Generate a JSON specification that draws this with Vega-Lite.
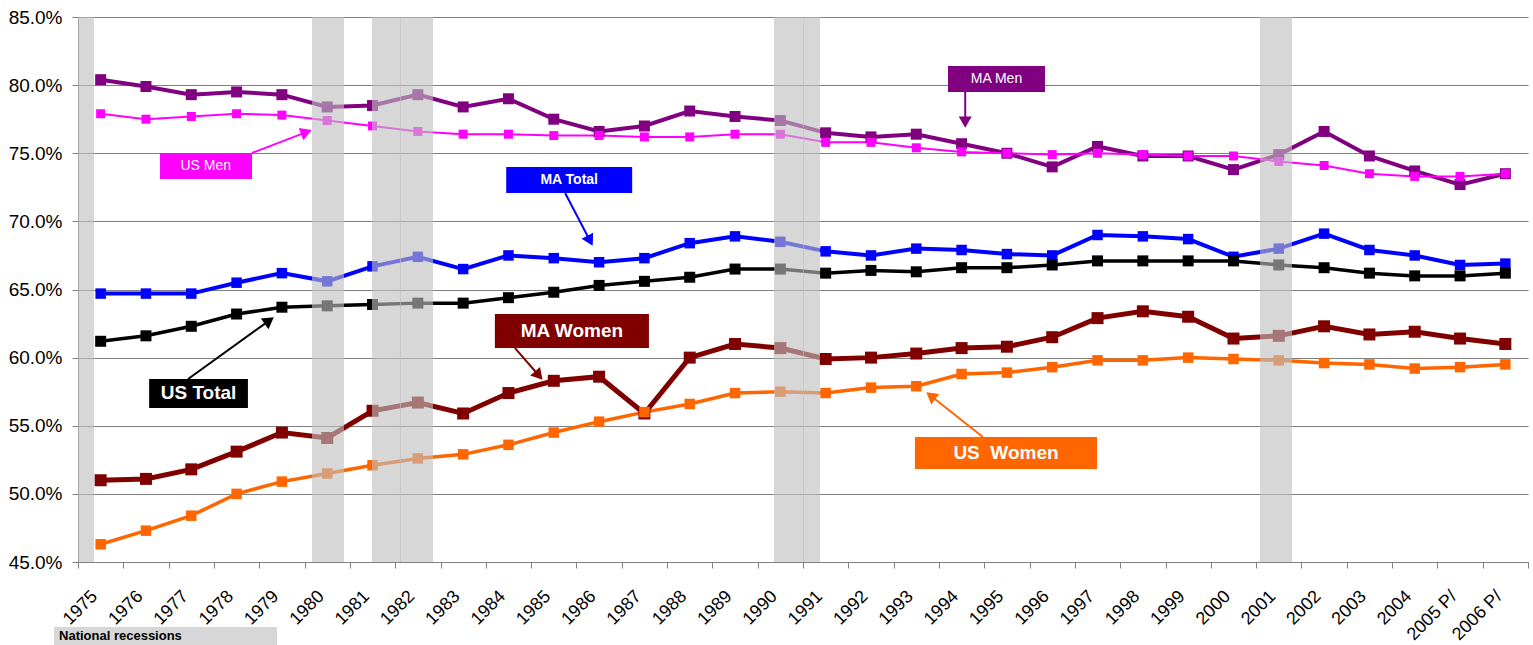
{
  "$schema": "https://vega.github.io/schema/vega-lite/v6.json",
  "width": 1450,
  "height": 545,
  "autosize": "none",
  "padding": {"left": 78, "top": 17, "right": 5, "bottom": 83},
  "background": "white",
  "config": {
    "view": {"stroke": null},
    "font": "Liberation Sans",
    "axis": {"labelFont": "Liberation Sans", "labelColor": "black", "domainColor": "#808080", "tickColor": "#808080", "title": null}
  },
  "datasets": {
    "series": [
      {"series":"MA Men","year":1975,"value":80.4},{"series":"MA Men","year":1976,"value":79.9},{"series":"MA Men","year":1977,"value":79.3},{"series":"MA Men","year":1978,"value":79.5},{"series":"MA Men","year":1979,"value":79.3},{"series":"MA Men","year":1980,"value":78.4},{"series":"MA Men","year":1981,"value":78.5},{"series":"MA Men","year":1982,"value":79.3},{"series":"MA Men","year":1983,"value":78.4},{"series":"MA Men","year":1984,"value":79.0},{"series":"MA Men","year":1985,"value":77.5},{"series":"MA Men","year":1986,"value":76.6},{"series":"MA Men","year":1987,"value":77.0},{"series":"MA Men","year":1988,"value":78.1},{"series":"MA Men","year":1989,"value":77.7},{"series":"MA Men","year":1990,"value":77.4},{"series":"MA Men","year":1991,"value":76.5},{"series":"MA Men","year":1992,"value":76.2},{"series":"MA Men","year":1993,"value":76.4},{"series":"MA Men","year":1994,"value":75.7},{"series":"MA Men","year":1995,"value":75.0},{"series":"MA Men","year":1996,"value":74.0},{"series":"MA Men","year":1997,"value":75.5},{"series":"MA Men","year":1998,"value":74.8},{"series":"MA Men","year":1999,"value":74.8},{"series":"MA Men","year":2000,"value":73.8},{"series":"MA Men","year":2001,"value":74.9},{"series":"MA Men","year":2002,"value":76.6},{"series":"MA Men","year":2003,"value":74.8},{"series":"MA Men","year":2004,"value":73.7},{"series":"MA Men","year":2005,"value":72.7},{"series":"MA Men","year":2006,"value":73.5},
      {"series":"US Men","year":1975,"value":77.9},{"series":"US Men","year":1976,"value":77.5},{"series":"US Men","year":1977,"value":77.7},{"series":"US Men","year":1978,"value":77.9},{"series":"US Men","year":1979,"value":77.8},{"series":"US Men","year":1980,"value":77.4},{"series":"US Men","year":1981,"value":77.0},{"series":"US Men","year":1982,"value":76.6},{"series":"US Men","year":1983,"value":76.4},{"series":"US Men","year":1984,"value":76.4},{"series":"US Men","year":1985,"value":76.3},{"series":"US Men","year":1986,"value":76.3},{"series":"US Men","year":1987,"value":76.2},{"series":"US Men","year":1988,"value":76.2},{"series":"US Men","year":1989,"value":76.4},{"series":"US Men","year":1990,"value":76.4},{"series":"US Men","year":1991,"value":75.8},{"series":"US Men","year":1992,"value":75.8},{"series":"US Men","year":1993,"value":75.4},{"series":"US Men","year":1994,"value":75.1},{"series":"US Men","year":1995,"value":75.0},{"series":"US Men","year":1996,"value":74.9},{"series":"US Men","year":1997,"value":75.0},{"series":"US Men","year":1998,"value":74.9},{"series":"US Men","year":1999,"value":74.8},{"series":"US Men","year":2000,"value":74.8},{"series":"US Men","year":2001,"value":74.4},{"series":"US Men","year":2002,"value":74.1},{"series":"US Men","year":2003,"value":73.5},{"series":"US Men","year":2004,"value":73.3},{"series":"US Men","year":2005,"value":73.3},{"series":"US Men","year":2006,"value":73.5},
      {"series":"MA Total","year":1975,"value":64.7},{"series":"MA Total","year":1976,"value":64.7},{"series":"MA Total","year":1977,"value":64.7},{"series":"MA Total","year":1978,"value":65.5},{"series":"MA Total","year":1979,"value":66.2},{"series":"MA Total","year":1980,"value":65.6},{"series":"MA Total","year":1981,"value":66.7},{"series":"MA Total","year":1982,"value":67.4},{"series":"MA Total","year":1983,"value":66.5},{"series":"MA Total","year":1984,"value":67.5},{"series":"MA Total","year":1985,"value":67.3},{"series":"MA Total","year":1986,"value":67.0},{"series":"MA Total","year":1987,"value":67.3},{"series":"MA Total","year":1988,"value":68.4},{"series":"MA Total","year":1989,"value":68.9},{"series":"MA Total","year":1990,"value":68.5},{"series":"MA Total","year":1991,"value":67.8},{"series":"MA Total","year":1992,"value":67.5},{"series":"MA Total","year":1993,"value":68.0},{"series":"MA Total","year":1994,"value":67.9},{"series":"MA Total","year":1995,"value":67.6},{"series":"MA Total","year":1996,"value":67.5},{"series":"MA Total","year":1997,"value":69.0},{"series":"MA Total","year":1998,"value":68.9},{"series":"MA Total","year":1999,"value":68.7},{"series":"MA Total","year":2000,"value":67.4},{"series":"MA Total","year":2001,"value":68.0},{"series":"MA Total","year":2002,"value":69.1},{"series":"MA Total","year":2003,"value":67.9},{"series":"MA Total","year":2004,"value":67.5},{"series":"MA Total","year":2005,"value":66.8},{"series":"MA Total","year":2006,"value":66.9},
      {"series":"US Total","year":1975,"value":61.2},{"series":"US Total","year":1976,"value":61.6},{"series":"US Total","year":1977,"value":62.3},{"series":"US Total","year":1978,"value":63.2},{"series":"US Total","year":1979,"value":63.7},{"series":"US Total","year":1980,"value":63.8},{"series":"US Total","year":1981,"value":63.9},{"series":"US Total","year":1982,"value":64.0},{"series":"US Total","year":1983,"value":64.0},{"series":"US Total","year":1984,"value":64.4},{"series":"US Total","year":1985,"value":64.8},{"series":"US Total","year":1986,"value":65.3},{"series":"US Total","year":1987,"value":65.6},{"series":"US Total","year":1988,"value":65.9},{"series":"US Total","year":1989,"value":66.5},{"series":"US Total","year":1990,"value":66.5},{"series":"US Total","year":1991,"value":66.2},{"series":"US Total","year":1992,"value":66.4},{"series":"US Total","year":1993,"value":66.3},{"series":"US Total","year":1994,"value":66.6},{"series":"US Total","year":1995,"value":66.6},{"series":"US Total","year":1996,"value":66.8},{"series":"US Total","year":1997,"value":67.1},{"series":"US Total","year":1998,"value":67.1},{"series":"US Total","year":1999,"value":67.1},{"series":"US Total","year":2000,"value":67.1},{"series":"US Total","year":2001,"value":66.8},{"series":"US Total","year":2002,"value":66.6},{"series":"US Total","year":2003,"value":66.2},{"series":"US Total","year":2004,"value":66.0},{"series":"US Total","year":2005,"value":66.0},{"series":"US Total","year":2006,"value":66.2},
      {"series":"MA Women","year":1975,"value":51.0},{"series":"MA Women","year":1976,"value":51.1},{"series":"MA Women","year":1977,"value":51.8},{"series":"MA Women","year":1978,"value":53.1},{"series":"MA Women","year":1979,"value":54.5},{"series":"MA Women","year":1980,"value":54.1},{"series":"MA Women","year":1981,"value":56.1},{"series":"MA Women","year":1982,"value":56.7},{"series":"MA Women","year":1983,"value":55.9},{"series":"MA Women","year":1984,"value":57.4},{"series":"MA Women","year":1985,"value":58.3},{"series":"MA Women","year":1986,"value":58.6},{"series":"MA Women","year":1987,"value":55.9},{"series":"MA Women","year":1988,"value":60.0},{"series":"MA Women","year":1989,"value":61.0},{"series":"MA Women","year":1990,"value":60.7},{"series":"MA Women","year":1991,"value":59.9},{"series":"MA Women","year":1992,"value":60.0},{"series":"MA Women","year":1993,"value":60.3},{"series":"MA Women","year":1994,"value":60.7},{"series":"MA Women","year":1995,"value":60.8},{"series":"MA Women","year":1996,"value":61.5},{"series":"MA Women","year":1997,"value":62.9},{"series":"MA Women","year":1998,"value":63.4},{"series":"MA Women","year":1999,"value":63.0},{"series":"MA Women","year":2000,"value":61.4},{"series":"MA Women","year":2001,"value":61.6},{"series":"MA Women","year":2002,"value":62.3},{"series":"MA Women","year":2003,"value":61.7},{"series":"MA Women","year":2004,"value":61.9},{"series":"MA Women","year":2005,"value":61.4},{"series":"MA Women","year":2006,"value":61.0},
      {"series":"US Women","year":1975,"value":46.3},{"series":"US Women","year":1976,"value":47.3},{"series":"US Women","year":1977,"value":48.4},{"series":"US Women","year":1978,"value":50.0},{"series":"US Women","year":1979,"value":50.9},{"series":"US Women","year":1980,"value":51.5},{"series":"US Women","year":1981,"value":52.1},{"series":"US Women","year":1982,"value":52.6},{"series":"US Women","year":1983,"value":52.9},{"series":"US Women","year":1984,"value":53.6},{"series":"US Women","year":1985,"value":54.5},{"series":"US Women","year":1986,"value":55.3},{"series":"US Women","year":1987,"value":56.0},{"series":"US Women","year":1988,"value":56.6},{"series":"US Women","year":1989,"value":57.4},{"series":"US Women","year":1990,"value":57.5},{"series":"US Women","year":1991,"value":57.4},{"series":"US Women","year":1992,"value":57.8},{"series":"US Women","year":1993,"value":57.9},{"series":"US Women","year":1994,"value":58.8},{"series":"US Women","year":1995,"value":58.9},{"series":"US Women","year":1996,"value":59.3},{"series":"US Women","year":1997,"value":59.8},{"series":"US Women","year":1998,"value":59.8},{"series":"US Women","year":1999,"value":60.0},{"series":"US Women","year":2000,"value":59.9},{"series":"US Women","year":2001,"value":59.8},{"series":"US Women","year":2002,"value":59.6},{"series":"US Women","year":2003,"value":59.5},{"series":"US Women","year":2004,"value":59.2},{"series":"US Women","year":2005,"value":59.3},{"series":"US Women","year":2006,"value":59.5}
    ],
    "bands": [
      {"start":1974.5,"end":1974.853},
      {"start":1979.664,"end":1980.370},
      {"start":1980.988,"end":1981.628},
      {"start":1981.606,"end":1982.335},
      {"start":1989.860,"end":1990.522},
      {"start":1990.500,"end":1990.875},
      {"start":2000.586,"end":2001.292}
    ],
    "legendbox": [
      {"label":"National recessions","x0":1973.97,"x1":1978.892,"y0":38.4,"y1":40.23,"tx":1974.081,"ty":39.57}
    ],
    "notes": [
      {"series":"MA Men","label":"MA Men","bx0":1993.70,"bx1":1995.84,"by0":79.50,"by1":81.40,"tx":1994.77,"ty":80.45,"ax0":1994.08,"ay0":79.50,"ax1":1994.08,"ay1":77.29,"dir":180},
      {"series":"US Men","label":"US Men","bx0":1976.31,"bx1":1978.34,"by0":73.11,"by1":75.02,"tx":1977.32,"ty":74.06,"ax0":1978.34,"ay0":75.02,"ax1":1979.54,"ay1":76.55,"dir":69},
      {"series":"MA Total","label":"MA Total","bx0":1983.95,"bx1":1986.73,"by0":72.08,"by1":73.99,"tx":1985.34,"ty":73.04,"ax0":1985.25,"ay0":72.08,"ax1":1985.80,"ay1":68.58,"dir":152},
      {"series":"US Total","label":"US Total","bx0":1976.07,"bx1":1978.25,"by0":56.30,"by1":58.43,"tx":1977.16,"ty":57.37,"ax0":1976.93,"ay0":58.43,"ax1":1978.72,"ay1":62.72,"dir":54},
      {"series":"MA Women","label":"MA Women","bx0":1983.70,"bx1":1987.10,"by0":60.71,"by1":63.20,"tx":1985.40,"ty":61.95,"ax0":1984.14,"ay0":60.71,"ax1":1984.67,"ay1":58.69,"dir":139},
      {"series":"US Women","label":"US\u00a0 Women","bx0":1992.97,"bx1":1996.99,"by0":51.83,"by1":54.17,"tx":1994.98,"ty":53.0,"ax0":1994.47,"ay0":54.17,"ax1":1993.32,"ay1":57.20,"dir":308}
    ]
  },
  "layer": [
    {
      "data": {"name": "series"},
      "mark": {"type": "line"},
      "encoding": {
        "x": {"field": "year", "type": "quantitative", "scale": {"domain": [1974.5, 2006.5], "nice": false, "zero": false},
          "axis": {"values": [1974.5,1975.5,1976.5,1977.5,1978.5,1979.5,1980.5,1981.5,1982.5,1983.5,1984.5,1985.5,1986.5,1987.5,1988.5,1989.5,1990.5,1991.5,1992.5,1993.5,1994.5,1995.5,1996.5,1997.5,1998.5,1999.5,2000.5,2001.5,2002.5,2003.5,2004.5,2005.5,2006.5],
            "labelExpr": "datum.value > 2006 ? '' : (datum.value + 0.5) + (datum.value > 2004 ? ' P/' : '')",
            "labelAngle": 315, "labelAlign": "right", "labelBaseline": "top", "labelOffset": 10, "labelPadding": 19,
            "tickSize": 6, "grid": false, "labelFontSize": 18, "labelOverlap": false, "labelFlush": false, "labelBound": false}},
        "y": {"field": "value", "type": "quantitative", "scale": {"domain": [45, 85], "nice": false, "zero": false},
          "axis": {"values": [45,50,55,60,65,70,75,80,85], "labelExpr": "format(datum.value, '.1f') + '%'",
            "grid": true, "gridColor": "#808080", "gridWidth": 1, "tickSize": 6, "labelPadding": 10, "labelFontSize": 19}},
        "color": {"field": "series", "type": "nominal", "legend": null,
          "scale": {"domain": ["MA Men","US Men","MA Total","US Total","MA Women","US Women"], "range": ["#800080","#FF00FF","#0000FF","#000000","#800000","#FF6600"]}},
        "strokeWidth": {"field": "series", "type": "nominal", "legend": null,
          "scale": {"type": "ordinal", "domain": ["MA Men","US Men","MA Total","US Total","MA Women","US Women"], "range": [4, 2, 4, 3.5, 5, 3.5]}}
      }
    },
    {
      "data": {"name": "series"},
      "mark": {"type": "point", "shape": "square", "filled": true, "opacity": 1},
      "encoding": {
        "x": {"field": "year", "type": "quantitative", "scale": {"domain": [1974.5, 2006.5], "nice": false, "zero": false}},
        "y": {"field": "value", "type": "quantitative", "scale": {"domain": [45, 85], "nice": false, "zero": false}},
        "color": {"field": "series", "type": "nominal", "legend": null},
        "size": {"field": "series", "type": "nominal", "legend": null,
          "scale": {"type": "ordinal", "domain": ["MA Men","US Men","MA Total","US Total","MA Women","US Women"], "range": [121, 81, 110, 121, 144, 110]}}
      }
    },
    {
      "data": {"name": "bands"},
      "mark": {"type": "rect", "fill": "#bebebe", "opacity": 0.62},
      "encoding": {
        "x": {"field": "start", "type": "quantitative", "scale": {"domain": [1974.5, 2006.5], "nice": false, "zero": false}},
        "x2": {"field": "end"},
        "y": {"datum": 45, "type": "quantitative", "scale": {"domain": [45, 85], "nice": false, "zero": false}},
        "y2": {"datum": 85}
      }
    },
    {
      "data": {"name": "legendbox"},
      "mark": {"type": "rect", "fill": "#bebebe", "opacity": 0.62},
      "encoding": {
        "x": {"field": "x0", "type": "quantitative", "scale": {"domain": [1974.5, 2006.5], "nice": false, "zero": false}},
        "x2": {"field": "x1"},
        "y": {"field": "y0", "type": "quantitative", "scale": {"domain": [45, 85], "nice": false, "zero": false}},
        "y2": {"field": "y1"}
      }
    },
    {
      "data": {"name": "legendbox"},
      "mark": {"type": "text", "align": "left", "baseline": "middle", "fontSize": 13, "fontWeight": "bold", "color": "black", "font": "Liberation Sans"},
      "encoding": {
        "x": {"field": "tx", "type": "quantitative", "scale": {"domain": [1974.5, 2006.5], "nice": false, "zero": false}},
        "y": {"field": "ty", "type": "quantitative", "scale": {"domain": [45, 85], "nice": false, "zero": false}},
        "text": {"field": "label"}
      }
    },
    {
      "data": {"name": "notes"},
      "mark": {"type": "rect", "opacity": 1},
      "encoding": {
        "x": {"field": "bx0", "type": "quantitative", "scale": {"domain": [1974.5, 2006.5], "nice": false, "zero": false}},
        "x2": {"field": "bx1"},
        "y": {"field": "by0", "type": "quantitative", "scale": {"domain": [45, 85], "nice": false, "zero": false}},
        "y2": {"field": "by1"},
        "color": {"field": "series", "type": "nominal", "legend": null}
      }
    },
    {
      "data": {"name": "notes"},
      "mark": {"type": "rule", "strokeWidth": 2},
      "encoding": {
        "x": {"field": "ax0", "type": "quantitative", "scale": {"domain": [1974.5, 2006.5], "nice": false, "zero": false}},
        "x2": {"field": "ax1"},
        "y": {"field": "ay0", "type": "quantitative", "scale": {"domain": [45, 85], "nice": false, "zero": false}},
        "y2": {"field": "ay1"},
        "color": {"field": "series", "type": "nominal", "legend": null}
      }
    },
    {
      "data": {"name": "notes"},
      "mark": {"type": "point", "shape": "triangle-up", "filled": true, "opacity": 1, "size": 170},
      "encoding": {
        "x": {"field": "ax1", "type": "quantitative", "scale": {"domain": [1974.5, 2006.5], "nice": false, "zero": false}},
        "y": {"field": "ay1", "type": "quantitative", "scale": {"domain": [45, 85], "nice": false, "zero": false}},
        "angle": {"field": "dir", "type": "quantitative", "scale": null},
        "color": {"field": "series", "type": "nominal", "legend": null}
      }
    },
    {
      "data": {"name": "notes"},
      "transform": [{"filter": "datum.series == 'MA Men' || datum.series == 'US Men'"}],
      "mark": {"type": "text", "align": "center", "baseline": "middle", "fontSize": 14, "color": "white", "font": "Liberation Sans"},
      "encoding": {
        "x": {"field": "tx", "type": "quantitative", "scale": {"domain": [1974.5, 2006.5], "nice": false, "zero": false}},
        "y": {"field": "ty", "type": "quantitative", "scale": {"domain": [45, 85], "nice": false, "zero": false}},
        "text": {"field": "label"}
      }
    },
    {
      "data": {"name": "notes"},
      "transform": [{"filter": "datum.series == 'MA Total'"}],
      "mark": {"type": "text", "align": "center", "baseline": "middle", "fontSize": 14, "fontWeight": "bold", "color": "white", "font": "Liberation Sans"},
      "encoding": {
        "x": {"field": "tx", "type": "quantitative", "scale": {"domain": [1974.5, 2006.5], "nice": false, "zero": false}},
        "y": {"field": "ty", "type": "quantitative", "scale": {"domain": [45, 85], "nice": false, "zero": false}},
        "text": {"field": "label"}
      }
    },
    {
      "data": {"name": "notes"},
      "transform": [{"filter": "datum.series == 'US Total' || datum.series == 'MA Women' || datum.series == 'US Women'"}],
      "mark": {"type": "text", "align": "center", "baseline": "middle", "fontSize": 19, "fontWeight": "bold", "color": "white", "font": "Liberation Sans"},
      "encoding": {
        "x": {"field": "tx", "type": "quantitative", "scale": {"domain": [1974.5, 2006.5], "nice": false, "zero": false}},
        "y": {"field": "ty", "type": "quantitative", "scale": {"domain": [45, 85], "nice": false, "zero": false}},
        "text": {"field": "label"}
      }
    }
  ]
}
